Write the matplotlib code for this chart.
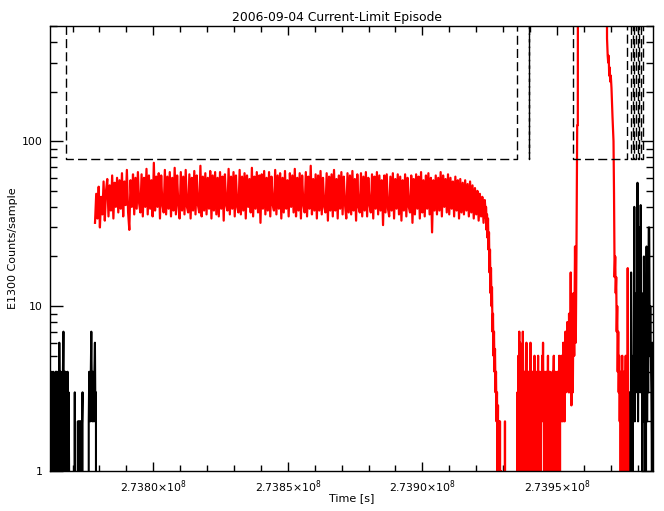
import numpy as np
import matplotlib.pyplot as plt
from matplotlib.ticker import FixedLocator, FuncFormatter, NullFormatter

plt.rcParams['font.family'] = ['DejaVu Sans']

T0 = 2.7376e8      # time origin [s]
HI = 1.0e4         # off-scale level for the limit trace

# ---- red trace: E1300 counts (times in ks after T0) ----
band_t0, band_t1 = 18.33, 163.68
band_vals = [
    32, 48, 34, 53, 30, 46, 36, 57, 33, 50, 59, 35, 54, 38, 62, 34, 56, 40, 60, 37,
    58, 39, 64, 35, 57, 41, 67, 37, 29, 58, 40, 63, 36, 60, 39, 65, 42, 37, 63, 35,
    60, 40, 68, 36, 62, 39, 58, 35, 74, 38, 61, 40, 64, 34, 62, 41, 37, 67, 36, 61,
    39, 65, 35, 60, 38, 69, 36, 62, 41, 34, 65, 38, 61, 36, 67, 40, 37, 63, 34, 60,
    38, 66, 36, 62, 41, 37, 71, 35, 61, 38, 64, 36, 60, 39, 66, 34, 62, 38, 65, 36,
    60, 35, 65, 39, 61, 33, 63, 41, 38, 68, 36, 61, 39, 65, 35, 62, 40, 37, 67, 36,
    61, 38, 64, 34, 62, 40, 59, 37, 69, 35, 61, 39, 65, 37, 62, 32, 63, 39, 66, 36,
    60, 38, 65, 35, 61, 41, 38, 67, 36, 62, 39, 64, 34, 60, 37, 66, 39, 58, 35, 64,
    40, 62, 37, 68, 35, 60, 38, 64, 34, 62, 41, 37, 65, 35, 61, 39, 71, 36, 59, 38,
    63, 34, 62, 38, 66, 36, 60, 40, 37, 64, 33, 61, 38, 63, 35, 67, 38, 59, 34, 62,
    39, 65, 36, 61, 41, 34, 64, 37, 62, 36, 66, 38, 59, 33, 63, 40, 37, 64, 35, 61,
    38, 65, 35, 60, 41, 37, 63, 34, 61, 39, 65, 36, 62, 38, 58, 31, 62, 37, 63, 39,
    35, 61, 38, 64, 34, 59, 39, 63, 36, 61, 33, 58, 38, 63, 35, 60, 40, 37, 62, 32,
    59, 36, 63, 39, 61, 34, 65, 37, 58, 35, 62, 39, 64, 36, 60, 28, 58, 38, 62, 36,
    60, 38, 65, 35, 62, 40, 59, 37, 63, 36, 60, 39, 57, 35, 61, 38, 58, 34, 59, 37,
    56, 36, 58, 38, 55, 35, 57, 37, 54, 34, 52, 36, 50, 33, 48, 35, 46, 32, 44, 34,
]

drop_t0, drop_t1 = 163.68, 175.0
drop_vals = [
    40, 29, 36, 26, 34, 22, 28, 16, 22, 12, 17, 10, 13, 7, 9, 5, 7, 4, 5.5, 3,
    4, 2, 3, 1, 2.5, 0, 2, 0, 2, 0, 1, 0, 0, 0, 0, 0, 0, 0, 2, 0,
    0, 0, 0, 0, 0, 0, 0, 0, 0, 0, 0, 0, 0, 0, 0, 0, 0, 0, 0, 0, 0, 0,
]

low_t0, low_t1 = 175.21, 194.72
low_vals = [
    0, 3, 1, 5, 2, 7, 0, 6, 3, 1, 4, 0, 2, 7, 3, 0, 1, 4, 2, 0,
    3, 6, 1, 2, 0, 4, 3, 0, 2, 1, 6, 0, 3, 2, 4, 0, 1, 3, 2, 5,
    0, 2, 4, 1, 3, 0, 2, 5, 1, 4, 2, 0, 3, 1, 4, 2, 5, 3, 6, 2,
    4, 0, 3, 1, 2, 4, 0, 3, 2, 5, 1, 3, 0, 4, 2, 1, 3, 0, 2, 4,
    1, 3, 5, 0, 2, 4, 1, 3, 2, 0, 4, 1, 3, 2, 5, 0, 3, 4, 2, 5,
    3, 4, 2, 6, 3, 5, 2, 4, 7, 3, 5, 4, 8, 4, 6, 3, 9, 4,
]

rise_t = [194.91, 195.17, 195.43, 195.69, 195.95, 196.21, 196.47, 196.77,
          197.06, 197.32, 197.58, 197.81, 197.88, 208.48]
rise_v = [3, 16, 2.5, 9, 3, 12, 5, 23, 6, 23, 125, 125, HI, HI]

fall_t = [208.67, 208.92, 209.11, 209.30, 209.48, 209.67, 209.85, 210.07,
          210.33, 210.71, 211.08, 211.27, 211.49, 211.71, 211.90, 212.08,
          212.27, 212.46, 212.64, 212.83, 213.01, 213.20, 213.39]
fall_v = [420, 330, 300, 330, 250, 280, 230, 250, 210, 140, 100, 48,
          15, 20, 12, 15, 7, 10, 4, 7, 3, 5, 2]

tail_t0, tail_t1 = 213.57, 216.73
tail_vals = [4, 0, 3, 1, 5, 0, 2, 4, 0, 3, 2, 5, 0, 3, 1, 17, 2, 0]

# ---- black trace: outside the episode ----
bl_t0, bl_t1 = 1.6, 19.07
bl_vals = [
    3, 0, 4, 1.6, 2, 0, 4, 2, 3, 1, 0, 4, 2, 4, 3, 0, 4, 2, 6, 3,
    0, 4, 2, 3, 0, 4, 7, 2, 4, 1, 4, 3, 0, 2, 4, 0, 3, 1,
    0, 0, 0, 0, 0, 0, 0, 0, 0, 0, 3, 0, 0, 0, 0, 0, 2, 0, 2, 1,
    2, 0, 2, 1.6, 2, 3, 0, 0, 0, 0, 0, 0, 0, 0, 0, 0, 0,
    2, 4, 3, 2, 4, 7, 3, 2, 4, 3, 2, 4, 6, 2, 3, 0, 0,
]

br_t0, br_t1 = 217.22, 225.95
br_vals = [
    3, 0, 16, 2, 4, 1, 5, 3, 40, 2, 6, 3, 12, 4, 56, 2, 8, 5, 30, 3,
    41, 4, 12, 1, 6, 2, 20, 3, 8, 0, 4, 23, 2, 10, 3, 30, 30, 5, 10, 5,
    3, 1, 6, 2, 4,
]

# ---- dashed current-limit trace ----
LIM = 78
thr_t = [1.6, 7.55, 7.55, 175.21, 175.21, 179.57, 179.57, 179.77, 179.77,
         196.03, 196.03, 216.10, 216.10]
thr_v = [HI, HI, LIM, LIM, HI, HI, LIM, LIM, HI, HI, LIM, LIM, HI]
# short drops to the limit near the end (down at first time, up at second)
drop_pairs = [(217.47, 218.15), (218.85, 219.45), (220.00, 220.56), (221.12, 221.86)]


def seg(t0, t1, vals):
    return np.linspace(t0, t1, len(vals)), np.asarray(vals, float)


parts = [seg(band_t0, band_t1, band_vals), seg(drop_t0, drop_t1, drop_vals),
         seg(low_t0, low_t1, low_vals), (np.array(rise_t), np.array(rise_v, float)),
         (np.array(fall_t), np.array(fall_v, float)), seg(tail_t0, tail_t1, tail_vals)]
red_t = np.concatenate([p[0] for p in parts]) * 1e3 + T0
red_v = np.concatenate([p[1] for p in parts])

for a, b in drop_pairs:
    thr_t += [a, a, b, b]
    thr_v += [HI, LIM, LIM, HI]
thr_t = np.array(thr_t) * 1e3 + T0

fig = plt.figure(figsize=(6.64, 5.11), dpi=100)
ax = fig.add_axes([50 / 664, 40 / 511, 603 / 664, 445 / 511])
ax.set_yscale('log', nonpositive='clip')

for t0, t1, vals in [(bl_t0, bl_t1, bl_vals), (br_t0, br_t1, br_vals)]:
    tt, vv = seg(t0, t1, vals)
    ax.plot(tt * 1e3 + T0, vv, color='black', lw=1.5)
ax.plot(red_t, red_v, color='red', lw=1.6)
ax.plot(thr_t, thr_v, color='black', lw=1.0, ls=(0, (6.5, 3)))

ax.set_xlim(T0 + 1600, T0 + 225760)
ax.set_ylim(1, 500)

ax.xaxis.set_major_locator(FixedLocator([2.7380e8, 2.7385e8, 2.7390e8, 2.7395e8]))
ax.xaxis.set_minor_locator(FixedLocator(np.arange(2.7377e8, 2.73986e8, 1e4)))
ax.xaxis.set_major_formatter(FuncFormatter(
    lambda x, p: f'{x / 1e8:.4f}' + r'$\times$10$^{8}$'))
ax.yaxis.set_major_locator(FixedLocator([1, 10, 100]))
ax.yaxis.set_minor_locator(FixedLocator([k * d for d in (1, 10, 100) for k in range(2, 10)]))
ax.yaxis.set_major_formatter(FuncFormatter(lambda y, p: f'{y:g}'))
ax.yaxis.set_minor_formatter(NullFormatter())

ax.tick_params(which='both', direction='in', top=True, right=True,
               labelsize=7.8, width=1, pad=5)
ax.tick_params(axis='x', which='major', length=6.5)
ax.tick_params(axis='x', which='minor', length=4.3)
ax.tick_params(axis='y', which='major', length=9)
ax.tick_params(axis='y', which='minor', length=4.7)
for sp in ax.spines.values():
    sp.set_linewidth(1)

fig.text(337.5 / 664, 1 - 17 / 511, '2006-09-04 Current-Limit Episode',
         fontsize=8.9, ha='center', va='center')
ax.set_xlabel('Time [s]', fontsize=8)
ax.set_ylabel('E1300 Counts/sample', fontsize=8)
ax.xaxis.set_label_coords(0.5, -0.049)
ax.yaxis.set_label_coords(-0.053, 0.5)

fig.savefig('out.png', dpi=100)
